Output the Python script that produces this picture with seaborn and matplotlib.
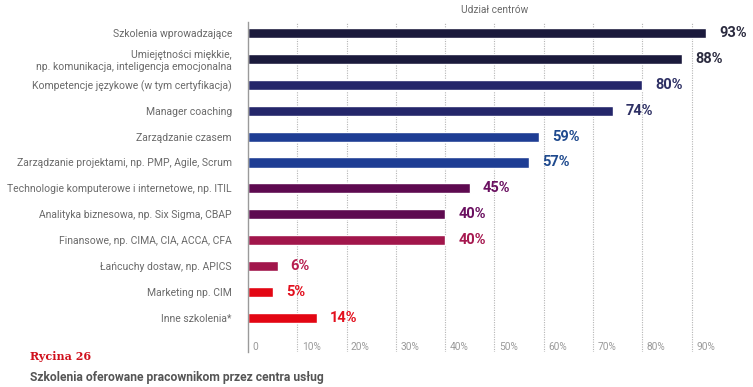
import seaborn as sns
import matplotlib
matplotlib.use('Agg')
import matplotlib.pyplot as plt
from matplotlib.transforms import blended_transform_factory

categories = [
    'Szkolenia wprowadzające',
    'Umiejętności miękkie,\nnp. komunikacja, inteligencja emocjonalna',
    'Kompetencje językowe (w tym certyfikacja)',
    'Manager coaching',
    'Zarządzanie czasem',
    'Zarządzanie projektami, np. PMP, Agile, Scrum',
    'Technologie komputerowe i internetowe, np. ITIL',
    'Analityka biznesowa, np. Six Sigma, CBAP',
    'Finansowe, np. CIMA, CIA, ACCA, CFA',
    'Łańcuchy dostaw, np. APICS',
    'Marketing np. CIM',
    'Inne szkolenia*',
]
shares = [93, 88, 80, 74, 59, 57, 45, 40, 40, 6, 5, 14]
bar_colors = ['#1b1a3c', '#1b1a3c', '#24266a', '#24266a', '#1e3d94', '#1e3d94',
              '#5e0a50', '#5e0a50', '#a1164b', '#a1164b', '#e30613', '#e30613']
label_colors = ['#2b2b3f', '#2b2b3f', '#2e3064', '#2e3064', '#1f4a8e', '#1f4a8e',
                '#6a1060', '#6a1060', '#a6184f', '#b71e4f', '#e3101e', '#e3101e']
grid_ticks = [10, 20, 30, 40, 50, 60, 70, 80, 90]
tick_labels = ['0', '10%', '20%', '30%', '40%', '50%', '60%', '70%', '80%', '90%']

sns.set_style('white')
plt.rcParams['font.family'] = ['Roboto', 'DejaVu Sans']

fig = plt.figure(figsize=(7.53, 3.87), dpi=100)
ax = fig.add_axes([0.3293, 0.0904, 0.6547, 0.8527])

sns.barplot(x=shares, y=categories, hue=categories, palette=bar_colors,
            legend=False, width=0.39, orient='h', saturation=1, ax=ax)

ax.set_xlim(0, 100)
ax.set_ylim(12.32, -0.425)
ax.set_xlabel('')
ax.set_ylabel('')
ax.set_xticks([])

for g in grid_ticks:
    ax.axvline(g, color='#b5b5b5', lw=0.8, ls=(0, (1, 1.2)), zorder=0)

for s in ['top', 'right', 'bottom']:
    ax.spines[s].set_visible(False)
ax.spines['left'].set_color('#9a9a9a')
ax.spines['left'].set_linewidth(1.0)

ax.tick_params(axis='y', length=0, pad=11.5, labelsize=7.45, labelcolor='#6a6a6a')

trans = blended_transform_factory(ax.transData, ax.transAxes)
for pos, lab in zip([0] + grid_ticks, tick_labels):
    ax.text(pos + 0.9, 0.014, lab, transform=trans, ha='left', va='center',
            fontsize=7.3, color='#9a9a9a')

for i, (v, c) in enumerate(zip(shares, label_colors)):
    ax.annotate(f'{v}%', xy=(v, i), xytext=(9.5, 0), textcoords='offset points',
                ha='left', va='center', fontsize=10.5, fontweight='bold', color=c)

ax.text(0.5, 1.037, 'Udział centrów', transform=ax.transAxes, ha='center',
        va='center', fontsize=7.3, color='#6a6a6a')

fig.text(30 / 753, 1 - 357 / 387, 'Rycina 26', ha='left', va='center',
         fontsize=8, fontweight='bold', color='#d0101c', family='DejaVu Serif')
fig.text(30 / 753, 1 - 377 / 387, 'Szkolenia oferowane pracownikom przez centra usług',
         ha='left', va='center', fontsize=8.7, fontweight='bold', color='#555555')

fig.savefig('out.png', dpi=100)
